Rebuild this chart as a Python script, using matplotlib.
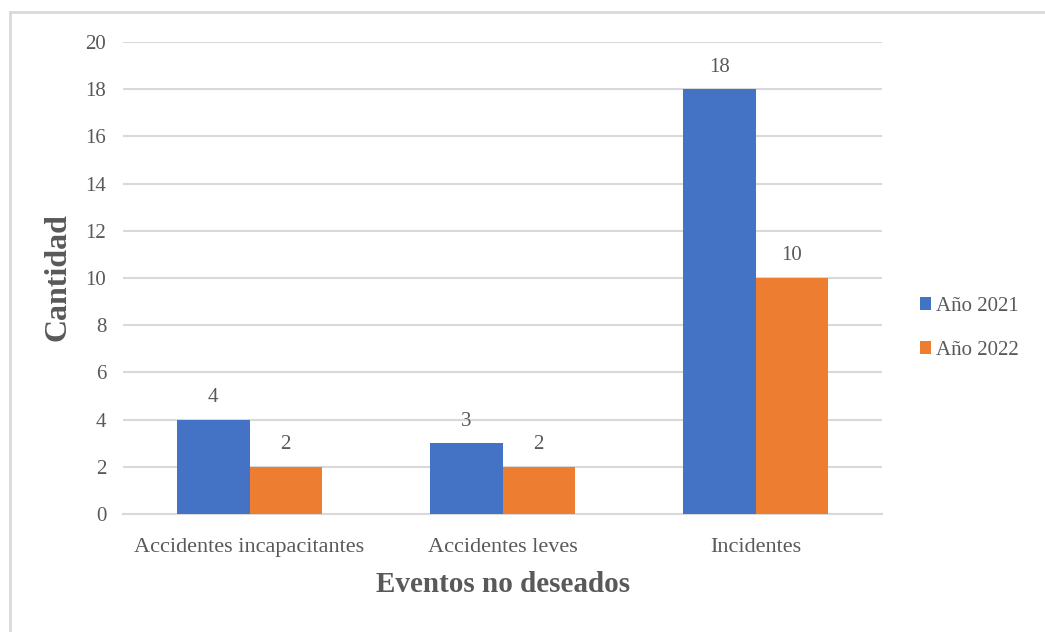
import matplotlib
matplotlib.use("Agg")
import matplotlib.pyplot as plt
from matplotlib.lines import Line2D
import numpy as np

categories = ["Accidentes incapacitantes", "Accidentes leves", "Incidentes"]
series_names = ["Año 2021", "Año 2022"]
values_2021 = [4, 3, 18]
values_2022 = [2, 2, 10]
y_ticks = [0, 2, 4, 6, 8, 10, 12, 14, 16, 18, 20]

colors = ["#4472C4", "#ED7D31"]
text_gray = "#595959"
grid_gray = "#D9D9D9"

plt.rcParams["font.family"] = ["Liberation Serif", "DejaVu Serif"]

W, H = 1045, 632
fig = plt.figure(figsize=(W / 100, H / 100), dpi=100)
fig.patch.set_facecolor("white")

# outer frame (left and top edges visible)
fig.add_artist(Line2D([10 / W, 10 / W], [0, 1 - 12 / H], transform=fig.transFigure,
                      color="#D9D9D9", lw=2))
fig.add_artist(Line2D([10 / W, 1], [1 - 12 / H, 1 - 12 / H], transform=fig.transFigure,
                      color="#D9D9D9", lw=2))

ax = fig.add_axes([123 / W, 1 - 514 / H, (882 - 123) / W, (514 - 42) / H])

x = np.arange(len(categories))
bw = 0.286
bars1 = ax.bar(x - bw / 2, values_2021, bw, color=colors[0], label=series_names[0], zorder=3)
bars2 = ax.bar(x + bw / 2, values_2022, bw, color=colors[1], label=series_names[1], zorder=3)

for bars, vals in ((bars1, values_2021), (bars2, values_2022)):
    for b, v in zip(bars, vals):
        ax.annotate(f"{v}", (b.get_x() + b.get_width() / 2, v), xytext=(0, 9),
                    textcoords="offset points", ha="center", va="bottom",
                    fontsize=15, color=text_gray)

ax.set_xlim(-0.5, len(categories) - 0.5)
ax.set_ylim(0, 20)
ax.set_yticks(y_ticks)
ax.set_xticks(x)
ax.set_xticklabels(categories)
ax.tick_params(axis="both", length=0, colors=text_gray)
ax.tick_params(axis="y", pad=12, labelsize=15)
ax.tick_params(axis="x", pad=17, labelsize=16)
ax.yaxis.grid(True, color=grid_gray, lw=1.5, zorder=0)
for s in ("top", "right", "left"):
    ax.spines[s].set_visible(False)
ax.spines["bottom"].set_color(grid_gray)
ax.spines["bottom"].set_linewidth(1.5)
ax.set_facecolor("white")

fig.text(58 / W, 1 - 277 / H, "Cantidad", rotation=90, ha="center", va="center",
         fontsize=23, fontweight="bold", color=text_gray)
fig.text(503 / W, 1 - 585 / H, "Eventos no deseados", ha="center", va="center",
         fontsize=21, fontweight="bold", color=text_gray)

leg = fig.legend(handles=[bars1, bars2], labels=series_names, loc="upper left",
                 bbox_to_anchor=(901 / W, 1 - 278 / H), frameon=False,
                 fontsize=15, labelcolor=text_gray, handlelength=0.55,
                 handleheight=0.55, handletextpad=0.25, labelspacing=1.2)

fig.savefig("out.png", dpi=100, facecolor="white")
